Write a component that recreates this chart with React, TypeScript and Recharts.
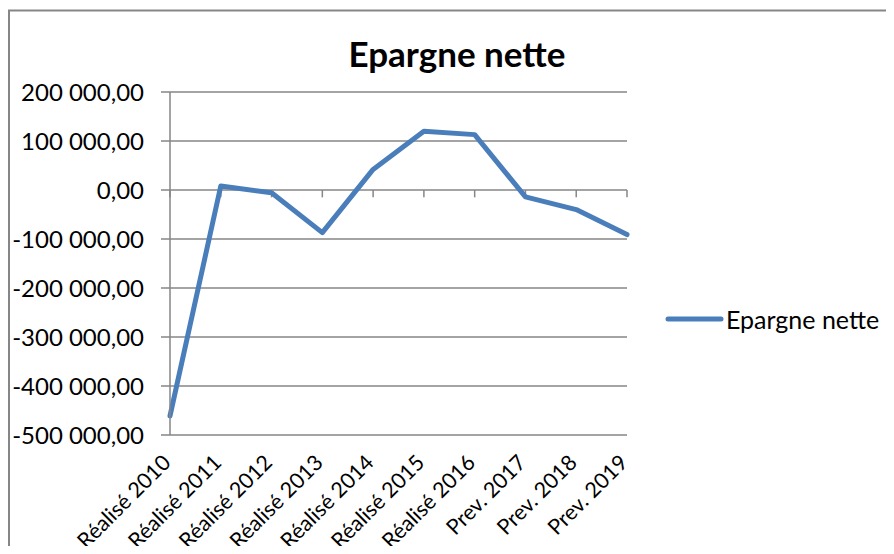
import React from 'react'
import {
  LineChart,
  Line,
  XAxis,
  YAxis,
  CartesianGrid,
  Legend,
  ReferenceLine
} from 'recharts'

const categories = [
  'Réalisé 2010',
  'Réalisé 2011',
  'Réalisé 2012',
  'Réalisé 2013',
  'Réalisé 2014',
  'Réalisé 2015',
  'Réalisé 2016',
  'Prev. 2017',
  'Prev. 2018',
  'Prev. 2019'
]

const epargneNette = [-461000, 8000, -5500, -87000, 42000, 120000, 113000, -14000, -40000, -91000]

const yTicks = [-500000, -400000, -300000, -200000, -100000, 0, 100000, 200000]

const data = categories.map((name, i) => ({ name, value: epargneNette[i] }))

const FONT = 'Lato, "Open Sans", sans-serif'
const GREY = '#868686'
const BLUE = '#4A7EBB'

// "200 000,00" style
const fmt = (v: number) => {
  const sign = v < 0 ? '-' : ''
  const s = Math.abs(v).toString().replace(/\B(?=(\d{3})+(?!\d))/g, ' ')
  return `${sign}${s},00`
}

const XTick = ({ x, y, payload }: any) => (
  <g transform={`translate(${x + 2}, ${y + 21}) rotate(-45)`}>
    <text x={0} y={0} textAnchor="end" fontSize={21.5} fontFamily={FONT} fill="#000">
      {payload.value}
    </text>
  </g>
)

const LegendContent = () => (
  <div style={{ display: 'flex', alignItems: 'center', fontFamily: FONT, fontSize: 25 }}>
    <svg width={59} height={10}>
      <line x1={3} y1={5} x2={56} y2={5} stroke={BLUE} strokeWidth={5} strokeLinecap="round" />
    </svg>
    <span style={{ marginLeft: 2, color: '#000' }}>Epargne nette</span>
  </div>
)

export default function App() {
  return (
    <div style={{ position: 'relative', margin: -8, width: 894, height: 554, overflow: 'hidden', background: '#fff' }}>
      <div
        style={{
          position: 'absolute',
          left: 0,
          right: 0,
          top: 32,
          paddingLeft: 20,
          textAlign: 'center',
          fontFamily: FONT,
          fontWeight: 700,
          fontSize: 35,
          color: '#000'
        }}
      >
        Epargne nette
      </div>
      <div style={{ position: 'absolute', left: 0, top: 0 }}>
        <LineChart
          width={894}
          height={554}
          data={data}
          margin={{ top: 92, right: 38, left: 0, bottom: 0 }}
        >
          <CartesianGrid vertical={false} stroke={GREY} strokeWidth={1.5} />
          <XAxis
            dataKey="name"
            height={119}
            axisLine={false}
            tickLine={false}
            interval={0}
            tick={<XTick />}
          />
          <YAxis
            domain={[-500000, 200000]}
            ticks={yTicks}
            tickFormatter={fmt}
            width={170}
            axisLine={{ stroke: GREY, strokeWidth: 1.5 }}
            tickLine={{ stroke: GREY, strokeWidth: 1.5 }}
            tickSize={9}
            tickMargin={17}
            interval={0}
            tick={{ fill: '#000', fontSize: 24, fontFamily: FONT }}
          />
          {categories.map((c) => (
            <ReferenceLine
              key={c}
              segment={[
                { x: c, y: 0 },
                { x: c, y: -15000 }
              ]}
              stroke={GREY}
              strokeWidth={1.5}
            />
          ))}
          <Legend
            verticalAlign="middle"
            align="right"
            layout="vertical"
            content={<LegendContent />}
            wrapperStyle={{ left: 665, top: 304, width: 229 }}
          />
          <Line
            type="linear"
            dataKey="value"
            name="Epargne nette"
            stroke={BLUE}
            strokeWidth={5}
            strokeLinecap="round"
            strokeLinejoin="round"
            dot={false}
            activeDot={false}
            isAnimationActive={false}
          />
        </LineChart>
      </div>
      {/* chart frame */}
      <svg
        width={894}
        height={554}
        style={{ position: 'absolute', left: 0, top: 0, pointerEvents: 'none' }}
      >
        <path d="M9 554 V10.5 H894" fill="none" stroke={GREY} strokeWidth={2} />
      </svg>
    </div>
  )
}
